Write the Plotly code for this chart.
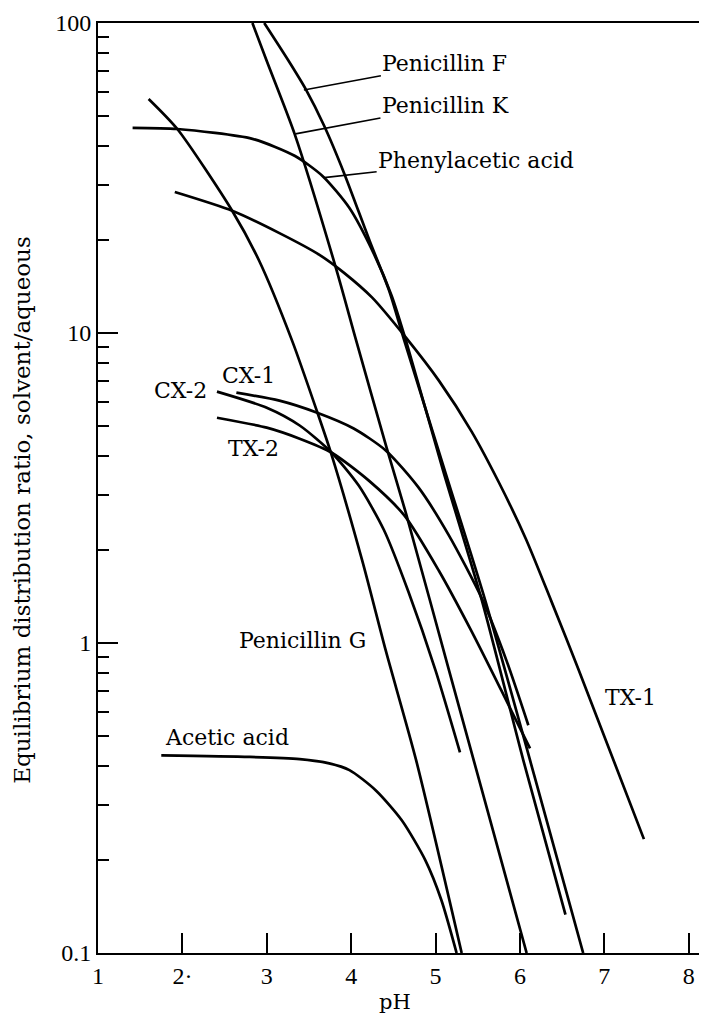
import math
import plotly.graph_objects as go

# values: pH and distribution ratio (solvent/aqueous)
pen_f_ph = [2.97, 3.26, 3.46, 3.68, 3.92, 4.22, 4.45, 4.63, 5.11, 5.59, 6.17, 6.75]
pen_f_d = [100, 75.4, 61.3, 46.6, 32.6, 19.8, 13.7, 9.45, 3.60, 1.37, 0.374, 0.1]

pen_k_ph = [2.83, 3.00, 3.33, 3.82, 4.06, 4.42, 4.65, 5.16, 6.08]
pen_k_d = [100, 75.4, 43.9, 16.2, 9.45, 4.27, 2.62, 0.816, 0.1]

phenyl_ph = [1.41, 1.94, 2.83, 3.33, 3.66, 3.98, 4.27, 4.48, 4.65, 5.09, 5.55, 6.04, 6.54]
phenyl_d = [45.9, 45.5, 42.3, 37.3, 32.1, 25.3, 18.0, 13.2, 9.45, 3.60, 1.37, 0.419, 0.133]

pen_g_ph = [1.60, 1.94, 2.59, 2.91, 3.30, 3.60, 3.76, 4.13, 4.41, 4.77, 5.31]
pen_g_d = [56.9, 45.5, 24.8, 17.1, 9.45, 5.54, 4.11, 1.85, 0.946, 0.419, 0.1]

tx1_ph = [1.91, 2.59, 3.15, 3.62, 3.92, 4.25, 4.65, 5.04, 5.43, 5.75, 6.07, 6.37, 6.69, 7.47]
tx1_d = [28.5, 24.8, 21.0, 17.9, 15.6, 13.0, 9.66, 7.02, 4.80, 3.30, 2.17, 1.37, 0.828, 0.233]

cx1_ph = [2.64, 3.15, 3.59, 4.03, 4.41, 4.80, 5.16, 5.55, 5.84, 6.10]
cx1_d = [6.42, 6.05, 5.54, 4.92, 4.18, 3.17, 2.22, 1.39, 0.879, 0.543]

cx2_ph = [2.41, 3.00, 3.39, 3.77, 4.09, 4.39, 4.68, 5.00, 5.29]
cx2_d = [6.47, 5.74, 5.03, 4.11, 3.22, 2.31, 1.46, 0.816, 0.444]

tx2_ph = [2.41, 3.00, 3.39, 3.77, 4.21, 4.63, 5.04, 5.42, 5.78, 6.12]
tx2_d = [5.33, 4.95, 4.56, 4.11, 3.34, 2.58, 1.71, 1.10, 0.703, 0.457]

acetic_ph = [1.75, 2.80, 3.39, 3.74, 3.98, 4.29, 4.60, 4.88, 5.07, 5.25]
acetic_d = [0.434, 0.429, 0.422, 0.409, 0.389, 0.335, 0.268, 0.199, 0.148, 0.1]

x_ticks = [1, 2, 3, 4, 5, 6, 7, 8]
x_tick_text = ["1", "2·", "3", "4", "5", "6", "7", "8"]
y_ticks = [0.1, 1, 10, 100]
y_tick_text = ["0.1", "1", "10", "100"]
y_minor = [m * 10 ** e for e in (-1, 0, 1) for m in range(2, 10)]

curves = [
    (pen_f_ph, pen_f_d), (pen_k_ph, pen_k_d), (phenyl_ph, phenyl_d),
    (pen_g_ph, pen_g_d), (tx1_ph, tx1_d), (cx1_ph, cx1_d),
    (cx2_ph, cx2_d), (tx2_ph, tx2_d), (acetic_ph, acetic_d),
]

fig = go.Figure()
for xs, ys in curves:
    fig.add_trace(go.Scatter(
        x=xs, y=ys, mode="lines",
        line=dict(color="black", width=2.7, shape="spline", smoothing=0.7),
        showlegend=False, hoverinfo="skip",
    ))

label_font = dict(family="DejaVu Serif", size=22, color="black")

# labels with leader lines (point on curve, text offset in px)
leaders = [
    ("Penicillin F", 3.44, 60.8, 141, -26),
    ("Penicillin K", 3.34, 43.9, 150, -28),
    ("Phenylacetic acid", 3.68, 31.7, 152, -17),
]
for text, x, y, ax, ay in leaders:
    fig.add_annotation(x=x, y=math.log10(y), text=text, showarrow=True,
                       arrowhead=0, arrowwidth=1.6, arrowcolor="black",
                       ax=ax, ay=ay, font=label_font)

# plain labels
plain = [
    ("CX-2", 2.32, 6.52, "right"),
    ("CX-1", 2.44, 7.29, "left"),
    ("TX-2", 2.52, 4.24, "left"),
    ("Penicillin G", 2.65, 1.02, "left"),
    ("Acetic acid", 1.77, 0.497, "left"),
    ("TX-1", 6.99, 0.668, "left"),
]
for text, x, y, anchor in plain:
    fig.add_annotation(x=x, y=math.log10(y), text=text, showarrow=False,
                       xanchor=anchor, yanchor="middle", font=label_font)

# axis titles
fig.add_annotation(xref="paper", yref="paper", x=-0.125, y=0.477,
                   text="Equilibrium distribution ratio, solvent/aqueous",
                   textangle=-90, showarrow=False, xanchor="center", yanchor="middle",
                   font=dict(family="DejaVu Serif", size=23, color="black"))
fig.add_annotation(xref="paper", yref="paper", x=0.491, y=-0.0526, text="pH",
                   showarrow=False, xanchor="center", yanchor="middle",
                   font=dict(family="DejaVu Serif", size=21, color="black"))

tick_font = dict(family="Liberation Serif", size=24, color="black")

fig.update_xaxes(range=[1, 8.17], tickvals=x_ticks, ticktext=x_tick_text,
                 ticks="inside", ticklen=20, tickwidth=2, tickcolor="black",
                 showline=True, linewidth=2, linecolor="black", mirror=True,
                 showgrid=False, zeroline=False, tickfont=tick_font)
fig.update_yaxes(type="log", range=[-1, 2], tickvals=y_ticks, ticktext=y_tick_text,
                 ticks="inside", ticklen=20, tickwidth=2, tickcolor="black",
                 minor=dict(tickvals=y_minor, ticks="inside", ticklen=11,
                            tickwidth=2, tickcolor="black", showgrid=False),
                 showline=True, linewidth=2, linecolor="black", mirror=True,
                 showgrid=False, zeroline=False, tickfont=tick_font)

# page adds an 8px body margin, so the figure is sized to fit the window
fig.update_layout(
    width=699, height=1009,
    margin=dict(l=90, r=2, t=14, b=64),
    plot_bgcolor="white", paper_bgcolor="white",
    showlegend=False,
)

fig.write_html("out.html")
